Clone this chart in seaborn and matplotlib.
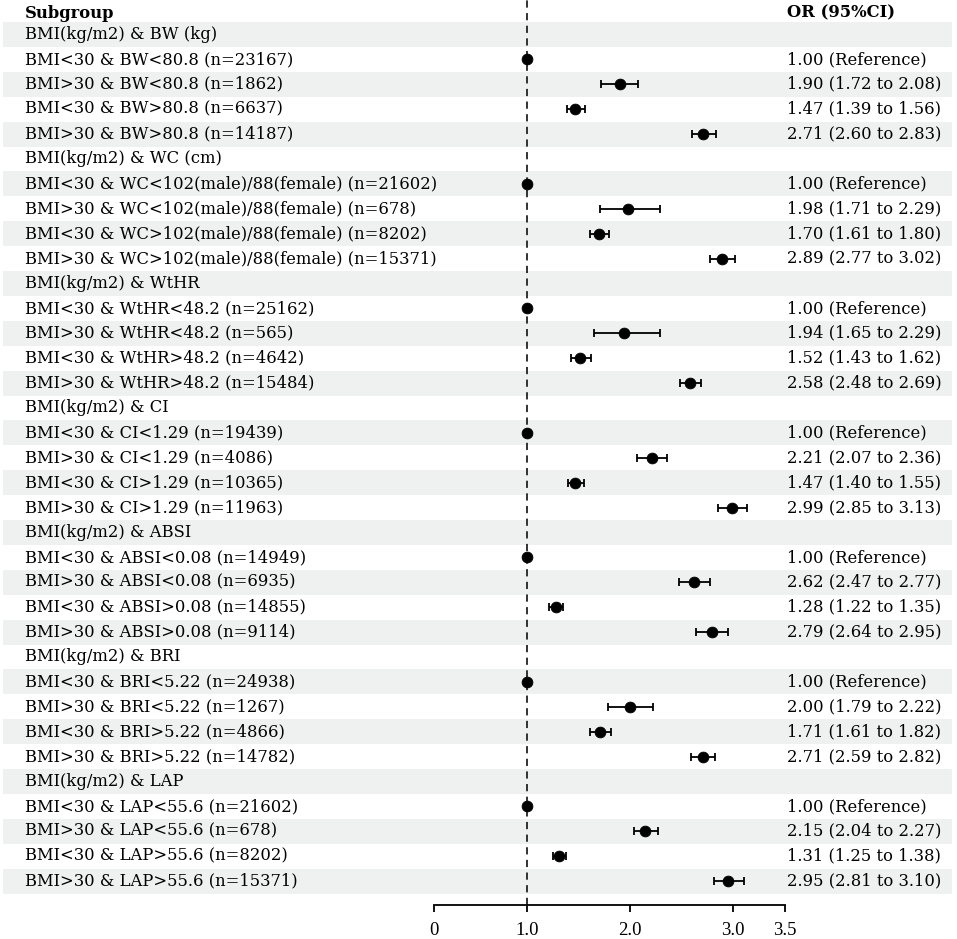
import numpy as np
import pandas as pd
import seaborn as sns
import matplotlib.pyplot as plt
from matplotlib.transforms import blended_transform_factory

# Forest plot data, one entry per table row (group header rows have NaN)
labels = [
    "BMI(kg/m2) & BW (kg)",
    "BMI<30 & BW<80.8 (n=23167)",
    "BMI>30 & BW<80.8 (n=1862)",
    "BMI<30 & BW>80.8 (n=6637)",
    "BMI>30 & BW>80.8 (n=14187)",
    "BMI(kg/m2) & WC (cm)",
    "BMI<30 & WC<102(male)/88(female) (n=21602)",
    "BMI>30 & WC<102(male)/88(female) (n=678)",
    "BMI<30 & WC>102(male)/88(female) (n=8202)",
    "BMI>30 & WC>102(male)/88(female) (n=15371)",
    "BMI(kg/m2) & WtHR",
    "BMI<30 & WtHR<48.2 (n=25162)",
    "BMI>30 & WtHR<48.2 (n=565)",
    "BMI<30 & WtHR>48.2 (n=4642)",
    "BMI>30 & WtHR>48.2 (n=15484)",
    "BMI(kg/m2) & CI",
    "BMI<30 & CI<1.29 (n=19439)",
    "BMI>30 & CI<1.29 (n=4086)",
    "BMI<30 & CI>1.29 (n=10365)",
    "BMI>30 & CI>1.29 (n=11963)",
    "BMI(kg/m2) & ABSI",
    "BMI<30 & ABSI<0.08 (n=14949)",
    "BMI>30 & ABSI<0.08 (n=6935)",
    "BMI<30 & ABSI>0.08 (n=14855)",
    "BMI>30 & ABSI>0.08 (n=9114)",
    "BMI(kg/m2) & BRI",
    "BMI<30 & BRI<5.22 (n=24938)",
    "BMI>30 & BRI<5.22 (n=1267)",
    "BMI<30 & BRI>5.22 (n=4866)",
    "BMI>30 & BRI>5.22 (n=14782)",
    "BMI(kg/m2) & LAP",
    "BMI<30 & LAP<55.6 (n=21602)",
    "BMI>30 & LAP<55.6 (n=678)",
    "BMI<30 & LAP>55.6 (n=8202)",
    "BMI>30 & LAP>55.6 (n=15371)",
]
nan = np.nan
odds = [nan, 1.00, 1.90, 1.47, 2.71,
        nan, 1.00, 1.98, 1.70, 2.89,
        nan, 1.00, 1.94, 1.52, 2.58,
        nan, 1.00, 2.21, 1.47, 2.99,
        nan, 1.00, 2.62, 1.28, 2.79,
        nan, 1.00, 2.00, 1.71, 2.71,
        nan, 1.00, 2.15, 1.31, 2.95]
ci_low = [nan, nan, 1.72, 1.39, 2.60,
          nan, nan, 1.71, 1.61, 2.77,
          nan, nan, 1.65, 1.43, 2.48,
          nan, nan, 2.07, 1.40, 2.85,
          nan, nan, 2.47, 1.22, 2.64,
          nan, nan, 1.79, 1.61, 2.59,
          nan, nan, 2.04, 1.25, 2.81]
ci_high = [nan, nan, 2.08, 1.56, 2.83,
           nan, nan, 2.29, 1.80, 3.02,
           nan, nan, 2.29, 1.62, 2.69,
           nan, nan, 2.36, 1.55, 3.13,
           nan, nan, 2.77, 1.35, 2.95,
           nan, nan, 2.22, 1.82, 2.82,
           nan, nan, 2.27, 1.38, 3.10]
tick_vals = [0.1, 1.0, 2.0, 3.0, 3.5]
tick_labels = ["0", "1.0", "2.0", "3.0", "3.5"]

df = pd.DataFrame({"label": labels, "OR": odds, "lo": ci_low, "hi": ci_high})
df["row"] = np.arange(len(df))

sns.set_theme(style="white")
plt.rcParams["font.family"] = ["DejaVu Serif"]
plt.rcParams["text.color"] = "black"

W, H = 957, 939
fig = plt.figure(figsize=(W / 100, H / 100), dpi=100)
ax = fig.add_axes([0, 34 / H, 1, 905 / H])

# pixel -> data mapping: 1 unit = 103.3 px, value 0 at x=423.4 px
ax.set_xlim((0 - 423.4) / 103.3, (W - 423.4) / 103.3)
ax.set_ylim((905 - 34.5) / 24.9, -34.5 / 24.9)

# Zebra bands
for i in range(0, len(df), 2):
    ax.axhspan(i - 0.5, i + 0.5, xmin=3 / W, xmax=952 / W,
               color="#eff1f0", zorder=0, lw=0)

ax.axvline(1, color="#222222", lw=1.3, ls=(0, (4, 3)), zorder=1)

pts = df.dropna(subset=["OR"])
ci = df.dropna(subset=["lo"])
ax.errorbar(ci["OR"], ci["row"], xerr=[ci["OR"] - ci["lo"], ci["hi"] - ci["OR"]],
            fmt="none", ecolor="black", elinewidth=1.3, capsize=3, capthick=1.3, zorder=2)
sns.scatterplot(data=pts, x="OR", y="row", color="black", s=60,
                edgecolor="black", ax=ax, zorder=3, legend=False)

# Table text
fs = 11.8
tr = blended_transform_factory(ax.transAxes, ax.transData)
ax.text(25 / W, -0.85, "Subgroup", transform=tr, va="center", ha="left",
        fontsize=fs, fontweight="bold")
ax.text(787 / W, -0.85, "OR (95%CI)", transform=tr, va="center", ha="left",
        fontsize=fs, fontweight="bold")
for _, r in df.iterrows():
    ax.text(25 / W, r["row"], r["label"], transform=tr, va="center",
            ha="left", fontsize=fs)
    if np.isnan(r["OR"]):
        continue
    if np.isnan(r["lo"]):
        txt = "{:.2f} (Reference)".format(r["OR"])
    else:
        txt = "{:.2f} ({:.2f} to {:.2f})".format(r["OR"], r["lo"], r["hi"])
    ax.text(787 / W, r["row"], txt, transform=tr, va="center",
            ha="left", fontsize=fs)

# Axis cleanup
for s in ["top", "left", "right"]:
    ax.spines[s].set_visible(False)
ax.spines["bottom"].set_bounds(0.1, 3.5)
ax.spines["bottom"].set_linewidth(1.3)
ax.spines["bottom"].set_color("black")
ax.set_xticks(tick_vals)
ax.set_xticklabels(tick_labels, fontfamily="Liberation Serif", fontsize=13.5, color="black")
ax.tick_params(axis="x", bottom=True, length=5, width=1.3, color="black", pad=7)
ax.set_yticks([])
ax.set_xlabel("")
ax.set_ylabel("")

fig.savefig("out.png", dpi=100)
